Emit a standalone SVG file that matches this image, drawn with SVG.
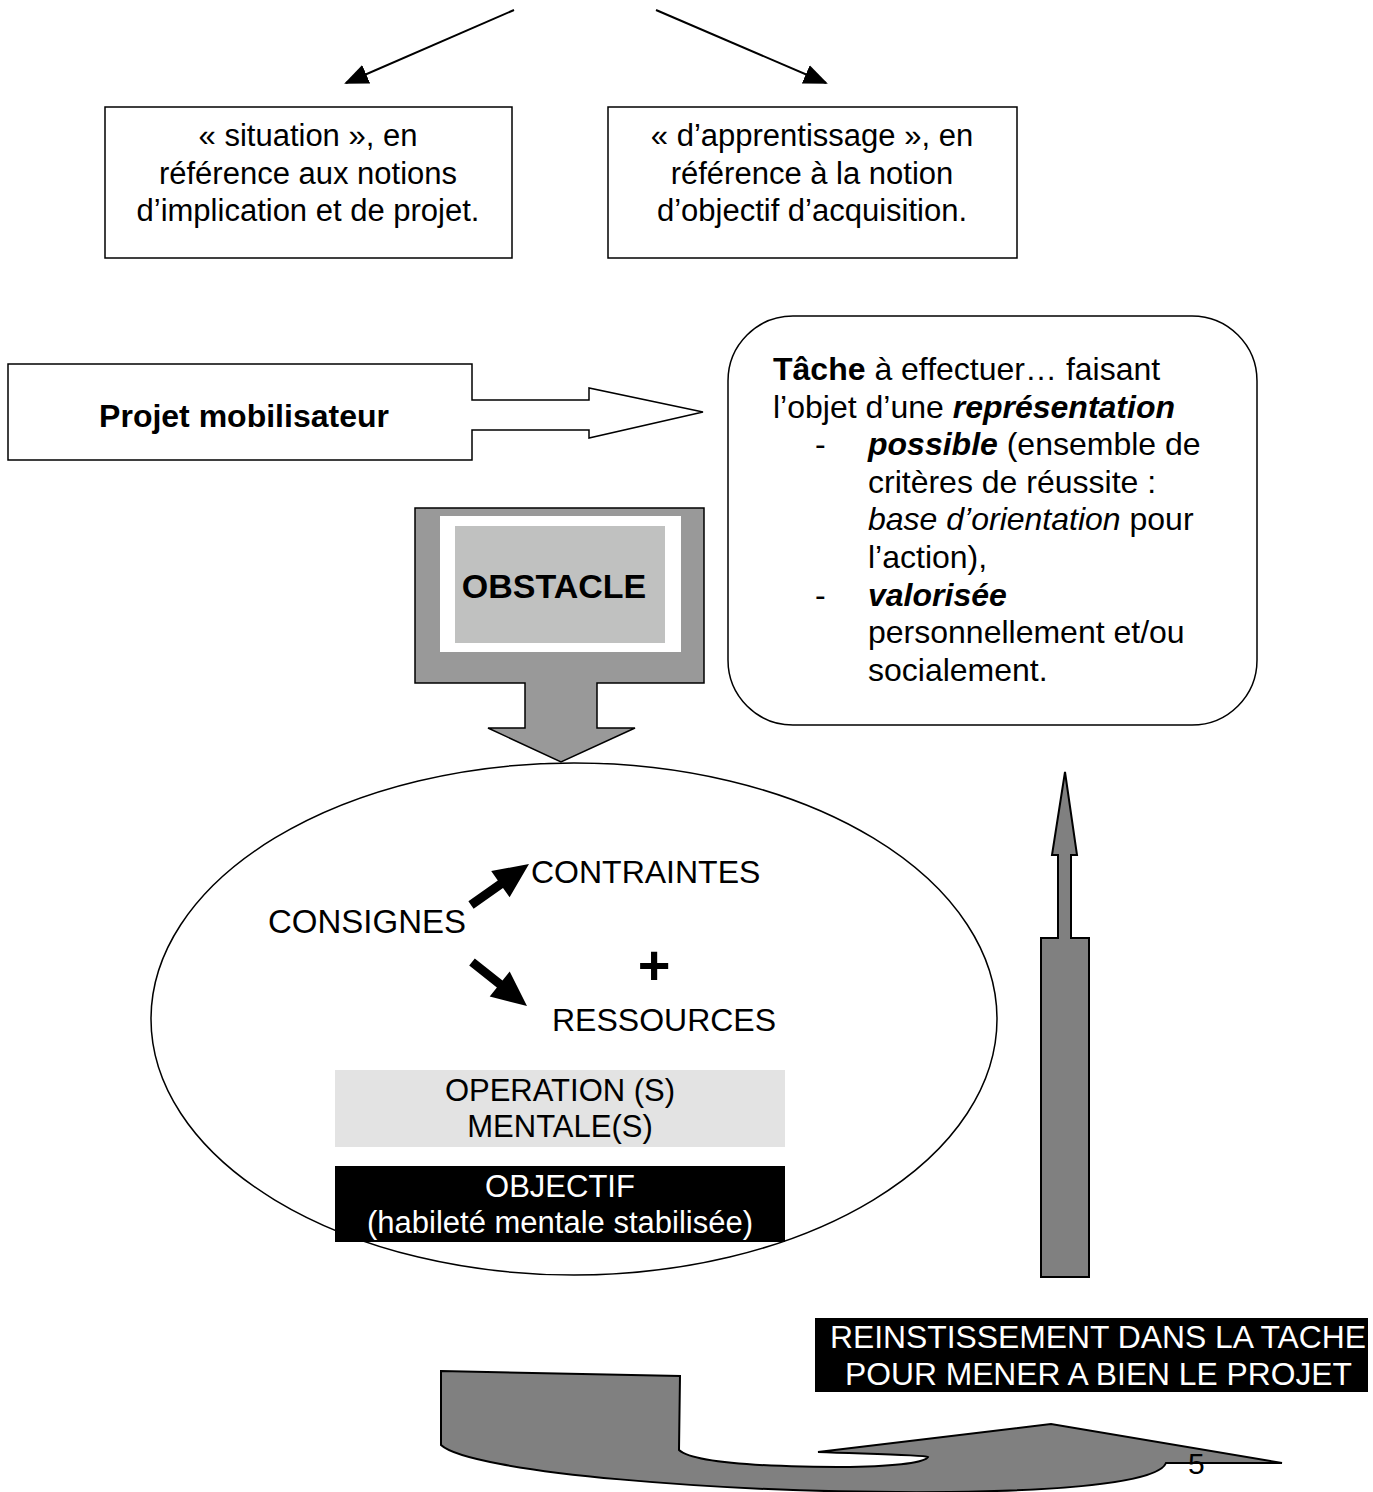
<svg xmlns="http://www.w3.org/2000/svg" width="1373" height="1492" viewBox="0 0 1373 1492">
<style>
text{font-family:"Liberation Sans",Arial,sans-serif;fill:#000}
.t31{font-size:31px}
.t32{font-size:32px}
.mid{text-anchor:middle}
.box{fill:#fff;stroke:#000;stroke-width:1.5}
.dark{fill:#808080;stroke:#000;stroke-width:2}
.wt{fill:#fff}
.bi{font-weight:bold;font-style:italic}
</style>
<defs>
<marker id="ah" markerUnits="userSpaceOnUse" markerWidth="26" markerHeight="22" refX="22" refY="10" orient="auto">
<path d="M0,0 L24,10 L0,20 z" fill="#000"/>
</marker>
</defs>
<g id="ellipse">
<ellipse cx="574" cy="1019" rx="423" ry="256" fill="#fff" stroke="#000" stroke-width="1.5"/>
</g>
<g id="situation">
<rect class="box" x="105" y="107" width="407" height="151"/>
<text class="t31 mid" x="308" y="146">« situation », en</text>
<text class="t31 mid" x="308" y="184">référence aux notions</text>
<text class="t31 mid" x="308" y="221">d’implication et de projet.</text>
</g>
<g id="apprentissage">
<rect class="box" x="608" y="107" width="409" height="151"/>
<text class="t31 mid" x="812" y="146">« d’apprentissage », en</text>
<text class="t31 mid" x="812" y="184">référence à la notion</text>
<text class="t31 mid" x="812" y="221">d’objectif d’acquisition.</text>
</g>
<g id="projet">
<path class="box" d="M8,364 H472 V400 H589 V388 L703,412 L589,438 V430 H472 V460 H8 Z"/>
<text class="t32 mid" x="244" y="427" font-weight="bold">Projet mobilisateur</text>
</g>
<g id="tache">
<rect class="box" x="728" y="316" width="529" height="409" rx="65" ry="65"/>
<text class="t32" x="773" y="380"><tspan font-weight="bold">Tâche</tspan> à effectuer… faisant</text>
<text class="t32" x="773" y="418">l’objet d’une <tspan class="bi">représentation</tspan></text>
<text class="t32" x="815" y="455">-</text>
<text class="t32" x="868" y="455"><tspan class="bi">possible</tspan> (ensemble de</text>
<text class="t32" x="868" y="493">critères de réussite :</text>
<text class="t32" x="868" y="530"><tspan font-style="italic">base d’orientation</tspan> pour</text>
<text class="t32" x="868" y="568">l’action),</text>
<text class="t32" x="815" y="606">-</text>
<text class="t32" x="868" y="606"><tspan class="bi">valorisée</tspan></text>
<text class="t32" x="868" y="643">personnellement et/ou</text>
<text class="t32" x="868" y="681">socialement.</text>
</g>
<g id="obstacle">
<path d="M415,508 H704 V683 H597 V728 H635 L561,762 L488,728 H525 V683 H415 Z" fill="#999" stroke="#000" stroke-width="1.5"/>
<rect x="440" y="516" width="241" height="136" fill="#fff"/>
<rect x="455" y="526" width="210" height="117" fill="#c0c1c0"/>
<text class="mid" x="554" y="598" font-size="34" font-weight="bold">OBSTACLE</text>
</g>
<g id="consignes">
<text x="268" y="933" font-size="33">CONSIGNES</text>
</g>
<g id="contraintes">
<text class="t32" x="531" y="883">CONTRAINTES</text>
</g>
<g id="plus">
<text class="mid" x="654" y="984" font-size="56" font-weight="bold">+</text>
</g>
<g id="ressources">
<text class="t32" x="552" y="1031">RESSOURCES</text>
</g>
<g id="operation">
<rect x="335" y="1070" width="450" height="77" fill="#e3e3e3"/>
<text class="t31 mid" x="560" y="1101">OPERATION (S)</text>
<text class="t31 mid" x="560" y="1137">MENTALE(S)</text>
</g>
<g id="objectif">
<rect x="335" y="1166" width="450" height="76" fill="#000"/>
<text class="t31 mid wt" x="560" y="1197">OBJECTIF</text>
<text class="t31 mid wt" x="560" y="1233">(habileté mentale stabilisée)</text>
</g>
<g id="fleche-montante">
<path class="dark" d="M1041,938 H1058 V855 H1052 L1065,772 L1077,855 H1071 V938 H1089 V1277 H1041 Z"/>
</g>
<g id="reinvestissement">
<rect x="815" y="1318" width="553" height="74" fill="#000"/>
<text class="t31 wt" x="830" y="1348" textLength="536" lengthAdjust="spacingAndGlyphs">REINSTISSEMENT DANS LA TACHE</text>
<text class="t31 wt" x="845" y="1385" textLength="507" lengthAdjust="spacingAndGlyphs">POUR MENER A BIEN LE PROJET</text>
</g>
<g id="fleche-retour">
<path class="dark" d="M441,1371 L680,1376 L679,1450 C692,1462 760,1467 850,1467 C900,1466 925,1462 928,1457 C925,1455 870,1454 818,1452 L1051,1424 L1282,1463 L1166,1463 C1160,1478 1100,1490 950,1492 C720,1494 470,1472 441,1445 Z"/>
<text x="1188" y="1474" font-family="Liberation Serif,serif" font-size="30">5</text>
</g>
<g id="connectors">
<line x1="514" y1="10" x2="346" y2="83" stroke="#000" stroke-width="2" marker-end="url(#ah)"/>
<line x1="656" y1="10" x2="826" y2="83" stroke="#000" stroke-width="2" marker-end="url(#ah)"/>
<polygon points="468.4,901.3 497.8,880.5 491.2,871.1 529,864 509.6,897.3 503,887.9 473.6,908.7" fill="#000"/>
<polygon points="474.8,958.5 502.5,980.6 509.7,971.6 527,1006 489.7,996.6 496.9,987.6 469.2,965.5" fill="#000"/>
</g>
</svg>
